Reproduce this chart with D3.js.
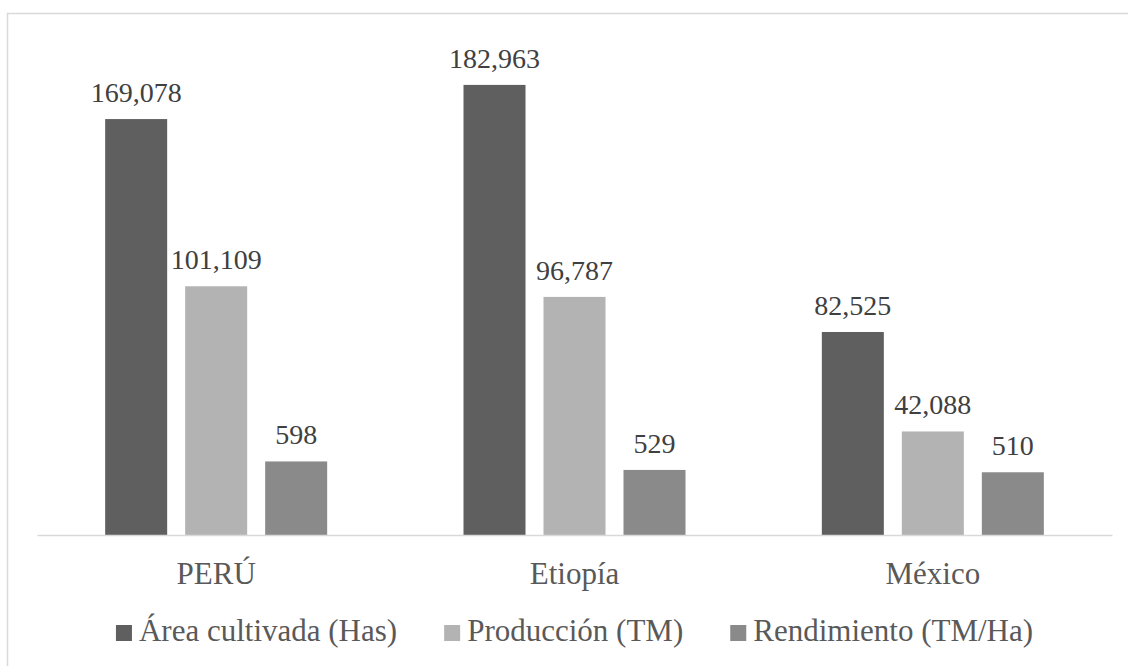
<!DOCTYPE html>
<html>
<head>
<meta charset="utf-8">
<script src="https://cdn.jsdelivr.net/npm/d3@7"></script>
</head>
<body style="margin:0;background:#fff">
<svg id="chart" width="1128" height="666" style="display:block"></svg>
<script>
// ---- data ----
const categories = ["PERÚ", "Etiopía", "México"];
const seriesNames = ["Área cultivada (Has)", "Producción (TM)", "Rendimiento (TM/Ha)"];
const areaCultivada = [169078, 182963, 82525];
const produccion = [101109, 96787, 42088];
const rendimiento = [598, 529, 510];
const seriesColors = ["#5f5f5f", "#b3b3b3", "#8a8a8a"];
// which axis each series uses (Rendimiento on secondary axis)
const seriesAxis = ["primary", "primary", "secondary"];
const primaryDomain = [0, 200000];
const secondaryDomain = [0, 4000];

const seriesValues = [areaCultivada, produccion, rendimiento];
const fontStyle = size => `font-family: "Liberation Serif", "Times New Roman", serif !important; font-size: ${size}px !important;`;

const svg = d3.select("#chart");
const W = 1128, H = 666;
const plot = { left: 37, right: 1112, top: 43, bottom: 535 };

// chart frame
svg.append("rect")
  .attr("x", 7.5).attr("y", 13.5)
  .attr("width", W + 20).attr("height", H + 20)
  .attr("fill", "#fff")
  .attr("stroke", "#d9d9d9").attr("stroke-width", 1.5);

const x0 = d3.scaleBand().domain(categories).range([plot.left, plot.right]).padding(0);
const x1 = d3.scaleBand().domain(seriesNames).range([0, x0.bandwidth()])
  .paddingInner(0.225).paddingOuter(0.852);
const yP = d3.scaleLinear().domain(primaryDomain).range([plot.bottom, plot.top]);
const yS = d3.scaleLinear().domain(secondaryDomain).range([plot.bottom, plot.top]);
const yFor = i => seriesAxis[i] === "secondary" ? yS : yP;

const fmt = d3.format(",");

const data = [];
categories.forEach((c, ci) => {
  seriesNames.forEach((s, si) => {
    data.push({ cat: c, series: s, si, value: seriesValues[si][ci] });
  });
});

svg.selectAll("rect.bar").data(data).enter().append("rect")
  .attr("class", "bar")
  .attr("x", d => x0(d.cat) + x1(d.series))
  .attr("y", d => yFor(d.si)(d.value))
  .attr("width", x1.bandwidth())
  .attr("height", d => plot.bottom - yFor(d.si)(d.value))
  .attr("fill", d => seriesColors[d.si]);

// baseline axis (line only)
const xAxis = d3.axisBottom(x0).tickSize(0).tickFormat(() => "");
const ax = svg.append("g").attr("transform", `translate(0,${plot.bottom})`).call(xAxis);
ax.select(".domain").attr("stroke", "#d9d9d9").attr("stroke-width", 1.5);
ax.selectAll(".tick").remove();

// category labels
svg.selectAll("text.cat").data(categories).enter().append("text")
  .attr("class", "cat")
  .attr("x", d => x0(d) + x0.bandwidth() / 2)
  .attr("y", plot.bottom + 49)
  .attr("text-anchor", "middle")
  .attr("style", fontStyle(31))
  .attr("fill", "#595959")
  .text(d => d);

// data labels
svg.selectAll("text.lbl").data(data).enter().append("text")
  .attr("class", "lbl")
  .attr("x", d => x0(d.cat) + x1(d.series) + x1.bandwidth() / 2)
  .attr("y", d => yFor(d.si)(d.value) - 17)
  .attr("text-anchor", "middle")
  .attr("style", fontStyle(28))
  .attr("fill", "#404040")
  .text(d => fmt(d.value));

// legend
const legTexts = svg.selectAll("text.leg").data(seriesNames).enter().append("text")
  .attr("class", "leg")
  .attr("y", 641)
  .attr("style", fontStyle(31))
  .attr("fill", "#595959")
  .text(d => d);
const legRects = svg.selectAll("rect.leg").data(seriesNames).enter().append("rect")
  .attr("class", "leg")
  .attr("width", 16).attr("height", 16).attr("y", 625)
  .attr("fill", (d, i) => seriesColors[i]);
const gap = 47, sw = 23;
const widths = [];
legTexts.each(function() { widths.push(sw + this.getComputedTextLength()); });
const total = d3.sum(widths) + gap * (widths.length - 1);
const starts = [];
let cx = (plot.left + plot.right) / 2 - total / 2;
widths.forEach(w => { starts.push(cx); cx += w + gap; });
legRects.attr("x", (d, i) => starts[i]);
legTexts.attr("x", (d, i) => starts[i] + sw);
</script>
</body>
</html>
